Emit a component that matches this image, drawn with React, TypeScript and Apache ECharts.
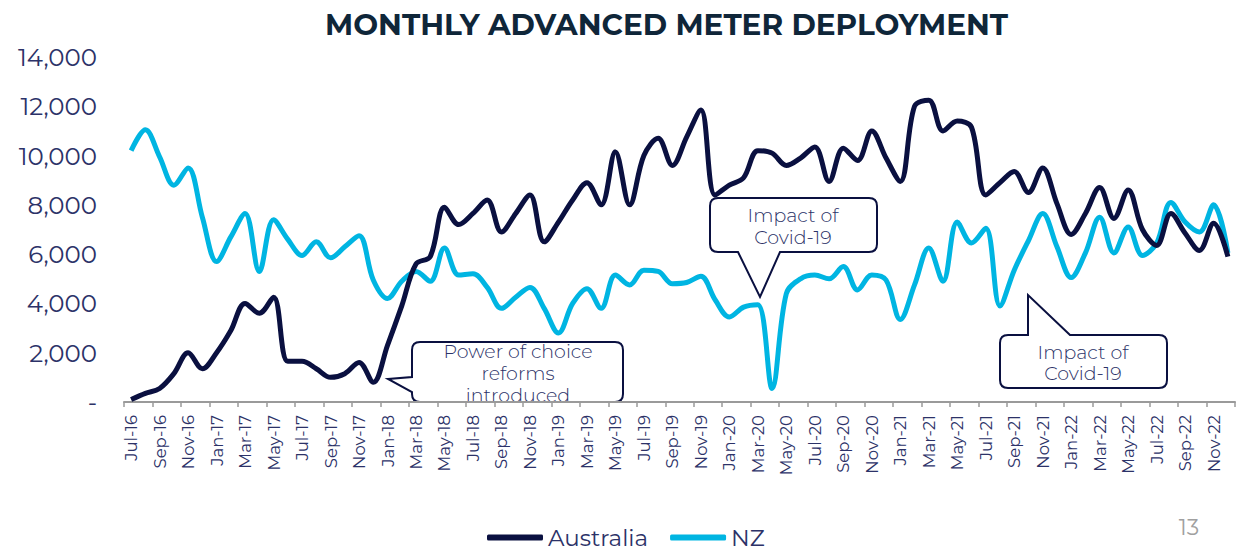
import React, { useEffect, useRef } from "react";
import * as echarts from "echarts";

const months = [
  "Jul-16","Aug-16","Sep-16","Oct-16","Nov-16","Dec-16",
  "Jan-17","Feb-17","Mar-17","Apr-17","May-17","Jun-17","Jul-17","Aug-17","Sep-17","Oct-17","Nov-17","Dec-17",
  "Jan-18","Feb-18","Mar-18","Apr-18","May-18","Jun-18","Jul-18","Aug-18","Sep-18","Oct-18","Nov-18","Dec-18",
  "Jan-19","Feb-19","Mar-19","Apr-19","May-19","Jun-19","Jul-19","Aug-19","Sep-19","Oct-19","Nov-19","Dec-19",
  "Jan-20","Feb-20","Mar-20","Apr-20","May-20","Jun-20","Jul-20","Aug-20","Sep-20","Oct-20","Nov-20","Dec-20",
  "Jan-21","Feb-21","Mar-21","Apr-21","May-21","Jun-21","Jul-21","Aug-21","Sep-21","Oct-21","Nov-21","Dec-21",
  "Jan-22","Feb-22","Mar-22","Apr-22","May-22","Jun-22","Jul-22","Aug-22","Sep-22","Oct-22","Nov-22","Dec-22",
];

const australia = [
  100, 350, 550, 1150, 2000, 1350,
  2000, 2900, 4000, 3600, 4250, 1650, 1650, 1350, 1000, 1150, 1600, 800,
  2300, 3900, 5600, 5900, 7900, 7200, 7650, 8200, 6900, 7650, 8400, 6500,
  7300, 8200, 8900, 8000, 10150, 8000, 10000, 10700, 9600, 10750, 11850, 8400,
  8800, 9100, 10200, 10100, 9600, 9900, 10350, 8950, 10300, 9800, 11000, 9900,
  8950, 12000, 12250, 11000, 11400, 11150, 8400, 8900, 9350, 8500, 9500, 8050,
  6800, 7650, 8700, 7450, 8600, 7000, 6350, 7650, 6850, 6150, 7250, 5900,
];

const nz = [
  10200, 11050, 9950, 8800, 9500, 7500,
  5700, 6700, 7650, 5300, 7400, 6600, 5950, 6500, 5850, 6300, 6750, 4950,
  4200, 4900, 5300, 4900, 6250, 5150, 5200, 4650, 3800, 4250, 4650, 3800,
  2800, 4000, 4600, 3800, 5150, 4750, 5350, 5300, 4800, 4850, 5100, 4150,
  3450, 3850, 3950, 550, 4400, 5000, 5150, 5000, 5500, 4550, 5150, 4950,
  3350, 4750, 6250, 4900, 7300, 6450, 7050, 3900, 5350, 6550, 7650, 6300,
  5050, 6050, 7500, 6050, 7100, 5950, 6450, 8100, 7300, 6900, 8000, 6050,
];

const yTicks = [0, 2000, 4000, 6000, 8000, 10000, 12000, 14000];

const title = "MONTHLY ADVANCED METER DEPLOYMENT";
const seriesNames = ["Australia", "NZ"];
const pageNumber = "13";

const NAVY = "#0a1040";
const CYAN = "#00b5e2";
const TEXT = "#2c3268";
const FONT = "Montserrat, 'Noto Sans', 'Open Sans', sans-serif";

const calloutPaths: Record<string, string> = {
  calloutPower:
    "M 420 342 H 615 Q 623 342 623 350 V 394 Q 623 402 615 402 H 420 Q 412 402 412 394 V 392 L 388 379 L 412 377 V 350 Q 412 342 420 342 Z",
  calloutCovidA:
    "M 718 198 H 869 Q 877 198 877 206 V 244 Q 877 252 869 252 H 780 L 760 297 L 738 252 H 718 Q 710 252 710 244 V 206 Q 710 198 718 198 Z",
  calloutCovidB:
    "M 1008 335 H 1028 L 1028 295 L 1070 335 H 1159 Q 1167 335 1167 343 V 380 Q 1167 388 1159 388 H 1008 Q 1000 388 1000 380 V 343 Q 1000 335 1008 335 Z",
};

let registered = false;
function registerCallouts() {
  if (registered) return;
  registered = true;
  Object.keys(calloutPaths).forEach((k) => {
    echarts.graphic.registerShape(k, echarts.graphic.extendPath(calloutPaths[k], {}) as any);
  });
}

function callout(type: string, lines: string[], cx: number, firstY: number, lineH: number) {
  const children: any[] = [
    {
      type,
      x: 0,
      y: 0,
      style: { fill: "#ffffff", stroke: NAVY, lineWidth: 2 },
    },
  ];
  lines.forEach((t, i) => {
    children.push({
      type: "text",
      x: cx,
      y: firstY + i * lineH,
      style: {
        text: t,
        fill: TEXT,
        font: `300 19px ${FONT}`,
        textAlign: "center",
        textVerticalAlign: "middle",
      },
    });
  });
  return { type: "group", z: 100, children };
}

export default function App() {
  const ref = useRef<HTMLDivElement>(null);

  useEffect(() => {
    if (!ref.current) return;
    registerCallouts();
    const chart = echarts.init(ref.current, undefined, { renderer: "svg" });
    chart.setOption({
      animation: false,
      backgroundColor: "#ffffff",
      title: {
        text: title,
        left: 320,
        top: 4,
        textStyle: {
          fontFamily: FONT,
          fontWeight: "bold",
          fontSize: 29.5,
          color: "#0f2639",
        },
      },
      legend: {
        data: seriesNames,
        left: 482,
        top: 521,
        itemWidth: 56,
        itemHeight: 6,
        itemGap: 22,
        icon: "roundRect",
        textStyle: { fontFamily: FONT, fontSize: 23, color: TEXT },
      },
      grid: { left: 124, right: 2, top: 57, bottom: 149 },
      xAxis: {
        type: "category",
        data: months,
        boundaryGap: true,
        axisLine: { lineStyle: { color: "#9a9a9a", width: 2 } },
        axisTick: { show: true, interval: 1, length: 5, lineStyle: { color: "#9a9a9a", width: 1.5 } },
        axisLabel: {
          interval: 1,
          rotate: 90,
          margin: 13,
          fontFamily: FONT,
          fontSize: 16.5,
          color: TEXT,
        },
      },
      yAxis: {
        type: "value",
        min: 0,
        max: 14000,
        interval: 2000,
        splitLine: { show: false },
        axisLine: { show: false },
        axisTick: { show: false },
        axisLabel: {
          margin: 27,
          fontFamily: FONT,
          fontSize: 24.5,
          color: TEXT,
          formatter: (v: number) =>
            v === yTicks[0] ? "-" : v.toLocaleString("en-US"),
        },
      },
      series: [
        {
          name: seriesNames[0],
          type: "line",
          data: australia,
          smooth: 0.35,
          symbol: "none",
          lineStyle: { color: NAVY, width: 5 },
          itemStyle: { color: NAVY },
          z: 3,
        },
        {
          name: seriesNames[1],
          type: "line",
          data: nz,
          smooth: 0.35,
          symbol: "none",
          lineStyle: { color: CYAN, width: 5 },
          itemStyle: { color: CYAN },
          z: 2,
        },
      ],
      graphic: [
        callout("calloutPower", ["Power of choice", "reforms", "introduced"], 518, 351, 22),
        callout("calloutCovidA", ["Impact of", "Covid-19"], 793, 215, 22),
        callout("calloutCovidB", ["Impact of", "Covid-19"], 1083, 352, 21),
        {
          type: "text",
          x: 1189,
          y: 527,
          style: {
            text: pageNumber,
            fill: "#a0a0a0",
            font: `22px ${FONT}`,
            textAlign: "center",
            textVerticalAlign: "middle",
          },
        },
      ],
    });
    return () => chart.dispose();
  }, []);

  return (
    <div
      ref={ref}
      style={{ position: "absolute", left: 0, top: 0, width: 1237, height: 551 }}
    />
  );
}
